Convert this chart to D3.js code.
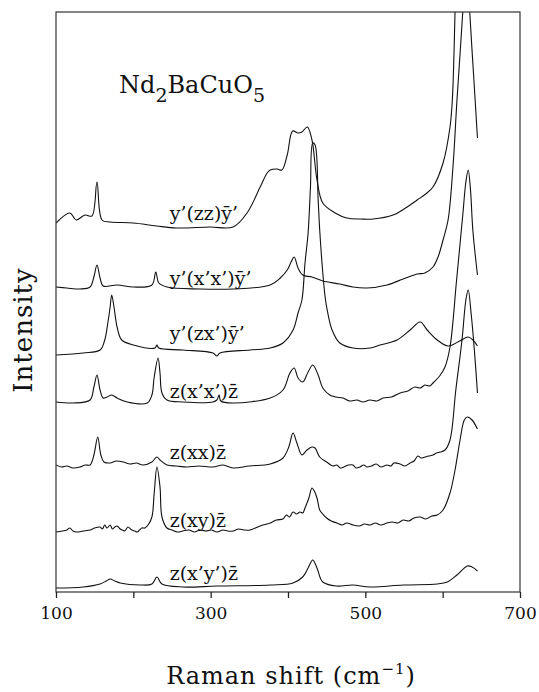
<!DOCTYPE html>
<html>
<head>
<meta charset="UTF-8"/>
<style>
    body { margin: 0; background: #fff; }
    svg { display: block; }
    text { font-family: "DejaVu Serif", serif; fill: #111; }
</style>
</head>
<body>
<script src="https://d3js.org/d3.v7.min.js"></script>
<div id="chart"></div>
<script>

// x ticks (Raman shift, cm-1); only every other one is labelled
var xTicks = [100, 200, 300, 400, 500, 600, 700];
var xTickLabels = ["100", "300", "500", "700"];

// scattering geometries, top to bottom
var names = [
    "y\u2019(zz)\u0233\u2019",
    "y\u2019(x\u2019x\u2019)\u0233\u2019",
    "y\u2019(zx\u2019)\u0233\u2019",
    "z(x\u2019x\u2019)z\u0304",
    "z(xx)z\u0304",
    "z(xy)z\u0304",
    "z(x\u2019y\u2019)z\u0304"
];

// spectra: [shift, intensity incl. vertical offset] (arb. units)
var zz = [[100,369],[118,379],[126,372],[137.5,377],[146.5,376],[153,410],[159.5,372],[170,370],[200,369],
    [230,366],[256,364],[299,365],[329,365],[347,379],[364,405],[373,419],[377,422],[386,423],[392,422],
    [399,437],[406,461],[413,459],[418,460],[425,465],[431,452],[437.5,412],[445,389],[461,379],[476,374],
    [494,373],[510,373],[536,377],[552,384],[567,392],[578,398],[587.5,405],[600.5,429],[609.5,465],
    [612.5,492],[616,580],[622,800],[630,1100],[638,900],[645,700]];

var xpxp = [[100,305],[114,304],[131,303],[144,305],[149,315],[153,327],[157,314],[161,306],[179,307],
    [200,305],[224,307],[229,320],[233,309],[243.5,305],[286,303],[329,303],[377,307],[390,314],[399,322],
    [404,330],[408,335],[413,324],[419,317],[431,315],[445,311],[467,308],[484,305],[502,304],[528,307],
    [549,313],[567,318],[577,319],[587.5,325],[594,335],[600.5,352],[607,372],[613.5,427],[618.5,492],
    [626,580],[631,652],[635,580],[640,517],[645,454]];

var zxp = [[100,237],[135,239],[157,242],[163,252],[167,269],[170,285],[172,297],[175,285],[179,265],
    [185,252],[200,247],[228,244],[230.5,247],[233,244],[264,242],[303,239],[308,236],[312,239],[351,242],
    [377,244],[393.5,249],[406.5,262],[413,279],[418,292],[422,329],[426,359],[429,404],[432,449],[435,447],
    [439,392],[441,362],[445,319],[448,295],[450,285],[457,262],[467,249],[484,244],[506,244],[519,247],
    [541,252],[558,262],[571,270],[580,262],[593,252],[607,246],[622,251],[633,255],[639,252],[645,246]];

var zxpxp = [[100,190],[122,189],[144,192],[149,205],[153,217],[157,202],[161,194],[166,195],[172,197],
    [179,194],[192,190],[218,189],[224,197],[227,215],[232,234],[234.5,219],[237,199],[243.5,192],[264,190],
    [303,190],[308,192],[311,197],[313,191],[329,189],[377,194],[393.5,202],[402.5,219],[408,224],[413,214],
    [419,210],[426,220],[432,227],[439,217],[445,204],[454,197],[462,195],[471,194],[480,191],[489,192],
    [497,190],[506,192],[515,191],[523,194],[534,195],[545,199],[555,201],[564,205],[571,204],[577,207],
    [583,206],[587.5,209],[597,217],[603,225],[609.5,245],[618,312],[626,377],[630,410],
    [633,422],[636,402],[639,362],[645,317]];

var zxx = [[100,127],[107,125],[114,126],[122,124],[131,125],[138,127],[144,127],[149,137],[154,155],
    [158,137],[162,130],[170,129],[178,131],[187,130],[196,128],[204,129],[212.5,127],[224,130],[230.5,135],
    [234.5,132],[243.5,127],[256,126],[269,125],[285,126],[303,125],[316,127],[329,124],[350,126],
    [377,128],[393.5,134],[401,145],[406.5,159],[411.5,149],[418,137],[424.5,142],[431,145],[435,144],
    [441,135],[450,130],[458,126],[463,127],[468,124],[472,125],[478,127],[484,127],[488,124],[493,125],
    [498,127],[502,125],[508,126],[514,128],[520,125],[528,127],[533,126],[537,129],[545,128],[551,126],
    [558,129],[563,131],[568,136],[572,134],[577,135],[582,136],[587.5,137],[592,139],[597,140],[603,142],
    [609.5,152],[617,202],[625,252],[630,292],[633,302],[637,277],[641,242],[645,199]];

var zxy = [[100,60],[108,61],[114,62],[118,64],[122,61],[127,60],[135,61],[144,62],[150,64],[157,65],
    [160,63],[163,67],[166,64],[170,67],[173,63],[176,65],[179,66],[183,63],[186,62],[189,61],[193,65],
    [198,62],[202,61],[205,60],[208,62],[211,64],[215,64],[219,67],[224,75],[227,99],[230.5,125],
    [234.5,105],[237,75],[243.5,64],[250,62],[257,60],[264,61],[272,62],[279,60],[286,62],[294,61],[301,62],
    [308,60],[316,62],[322,61],[329,61],[336,63],[343,62],[351,62],[364,66],[377,69],[385,72],[393.5,73],
    [398,77],[402,75],[406.5,80],[411,78],[415.5,80],[419,79],[422,84],[427,94],[431,104],[434,101],
    [437.5,94],[441,82],[445,78],[450,74],[456,71],[463,69],[470,67],[476,69],[484,67],[492,66],[499,68],
    [506,67],[513,69],[520,67],[528,69],[535,70],[542,69],[549,72],[556,71],[563,74],[571,75],[578,73],
    [586,76],[593,77],[600.5,82],[609.5,99],[616,122],[622.5,152],[628,172],[632,175],[638,172],[645,163]];

var zxpyp = [[100,4],[135,5],[157,8],[165,11],[170,13],[176,11],[183,9],[209,7],[224,8],[230.5,15],
    [237,8],[264,5],[308,6],[377,7],[406.5,9],[419,15],[426,24],[432,32],[437.5,24],[445,10],[463,6],
    [484,7],[506,5],[549,7],[593,8],[606,10],[618.5,17],[632,26],[638,25],[645,21]];

var spectra = [zz, xpxp, zxp, zxpxp, zxx, zxy, zxpyp];

// where each geometry label sits (shift, intensity)
var labelAt = [[247,372],[247,307],[247,252],[247,194],[247,133],[247,65],[247,12]];

var width = 539, height = 692;
var margin = {top: 12, right: 19, bottom: 100, left: 56};
var innerW = width - margin.left - margin.right,
    innerH = height - margin.top - margin.bottom;

var svg = d3.select("#chart")
    .append("svg")
    .attr("width", width)
    .attr("height", height);

var g = svg.append("g")
    .attr("transform", "translate(" + margin.left + "," + margin.top + ")");

var x = d3.scaleLinear().domain([100, 700]).range([0, innerW]);
var y = d3.scaleLinear().domain([0, 580]).range([innerH, 0]);

g.append("clipPath")
    .attr("id", "plotclip")
    .append("rect")
    .attr("width", innerW)
    .attr("height", innerH);

var line = d3.line()
    .x(function(d) { return x(d[0]); })
    .y(function(d) { return y(d[1]); })
    .curve(d3.curveCatmullRom.alpha(0.5));

g.append("g")
    .attr("clip-path", "url(#plotclip)")
    .selectAll("path")
    .data(spectra)
    .enter()
    .append("path")
    .attr("d", line)
    .attr("fill", "none")
    .attr("stroke", "#111")
    .attr("stroke-width", 1.1);

// frame
g.append("rect")
    .attr("width", innerW)
    .attr("height", innerH)
    .attr("fill", "none")
    .attr("stroke", "#333")
    .attr("stroke-width", 1.2);

// x axis
var xAxis = d3.axisBottom(x)
    .tickValues(xTicks)
    .tickSize(6)
    .tickPadding(9)
    .tickFormat(function(d) { return xTickLabels.indexOf(String(d)) >= 0 ? d : ""; });

var ax = g.append("g")
    .attr("transform", "translate(0," + innerH + ")")
    .call(xAxis);
ax.select(".domain").remove();
ax.selectAll("line").attr("stroke", "#222").attr("stroke-width", 1.3);
ax.selectAll("text")
    .attr("font-family", "DejaVu Serif")
    .attr("font-size", "17px")
    .attr("fill", "#111");

// geometry labels
g.selectAll(".geo")
    .data(names)
    .enter()
    .append("text")
    .attr("class", "geo")
    .attr("x", function(d, i) { return x(labelAt[i][0]); })
    .attr("y", function(d, i) { return y(labelAt[i][1]); })
    .attr("font-size", "19px")
    .text(function(d) { return d; });

// compound name
var title = svg.append("text")
    .attr("x", 119)
    .attr("y", 93)
    .attr("font-size", "24px");
title.append("tspan").text("Nd");
title.append("tspan").attr("dy", 9).attr("font-size", "19px").text("2");
title.append("tspan").attr("dy", -9).text("BaCuO");
title.append("tspan").attr("dy", 9).attr("font-size", "19px").text("5");

// axis titles
var xt = svg.append("text")
    .attr("x", 291)
    .attr("y", 684)
    .attr("text-anchor", "middle")
    .attr("font-size", "24px")
    .attr("letter-spacing", "1px");
xt.append("tspan").text("Raman shift (cm");
xt.append("tspan").attr("dy", -10).attr("font-size", "15px").text("\u22121");
xt.append("tspan").attr("dy", 10).text(")");

svg.append("text")
    .attr("transform", "translate(32,330) rotate(-90)")
    .attr("text-anchor", "middle")
    .attr("font-size", "26px")
    .attr("letter-spacing", "1px")
    .text("Intensity");

</script>
</body>
</html>
